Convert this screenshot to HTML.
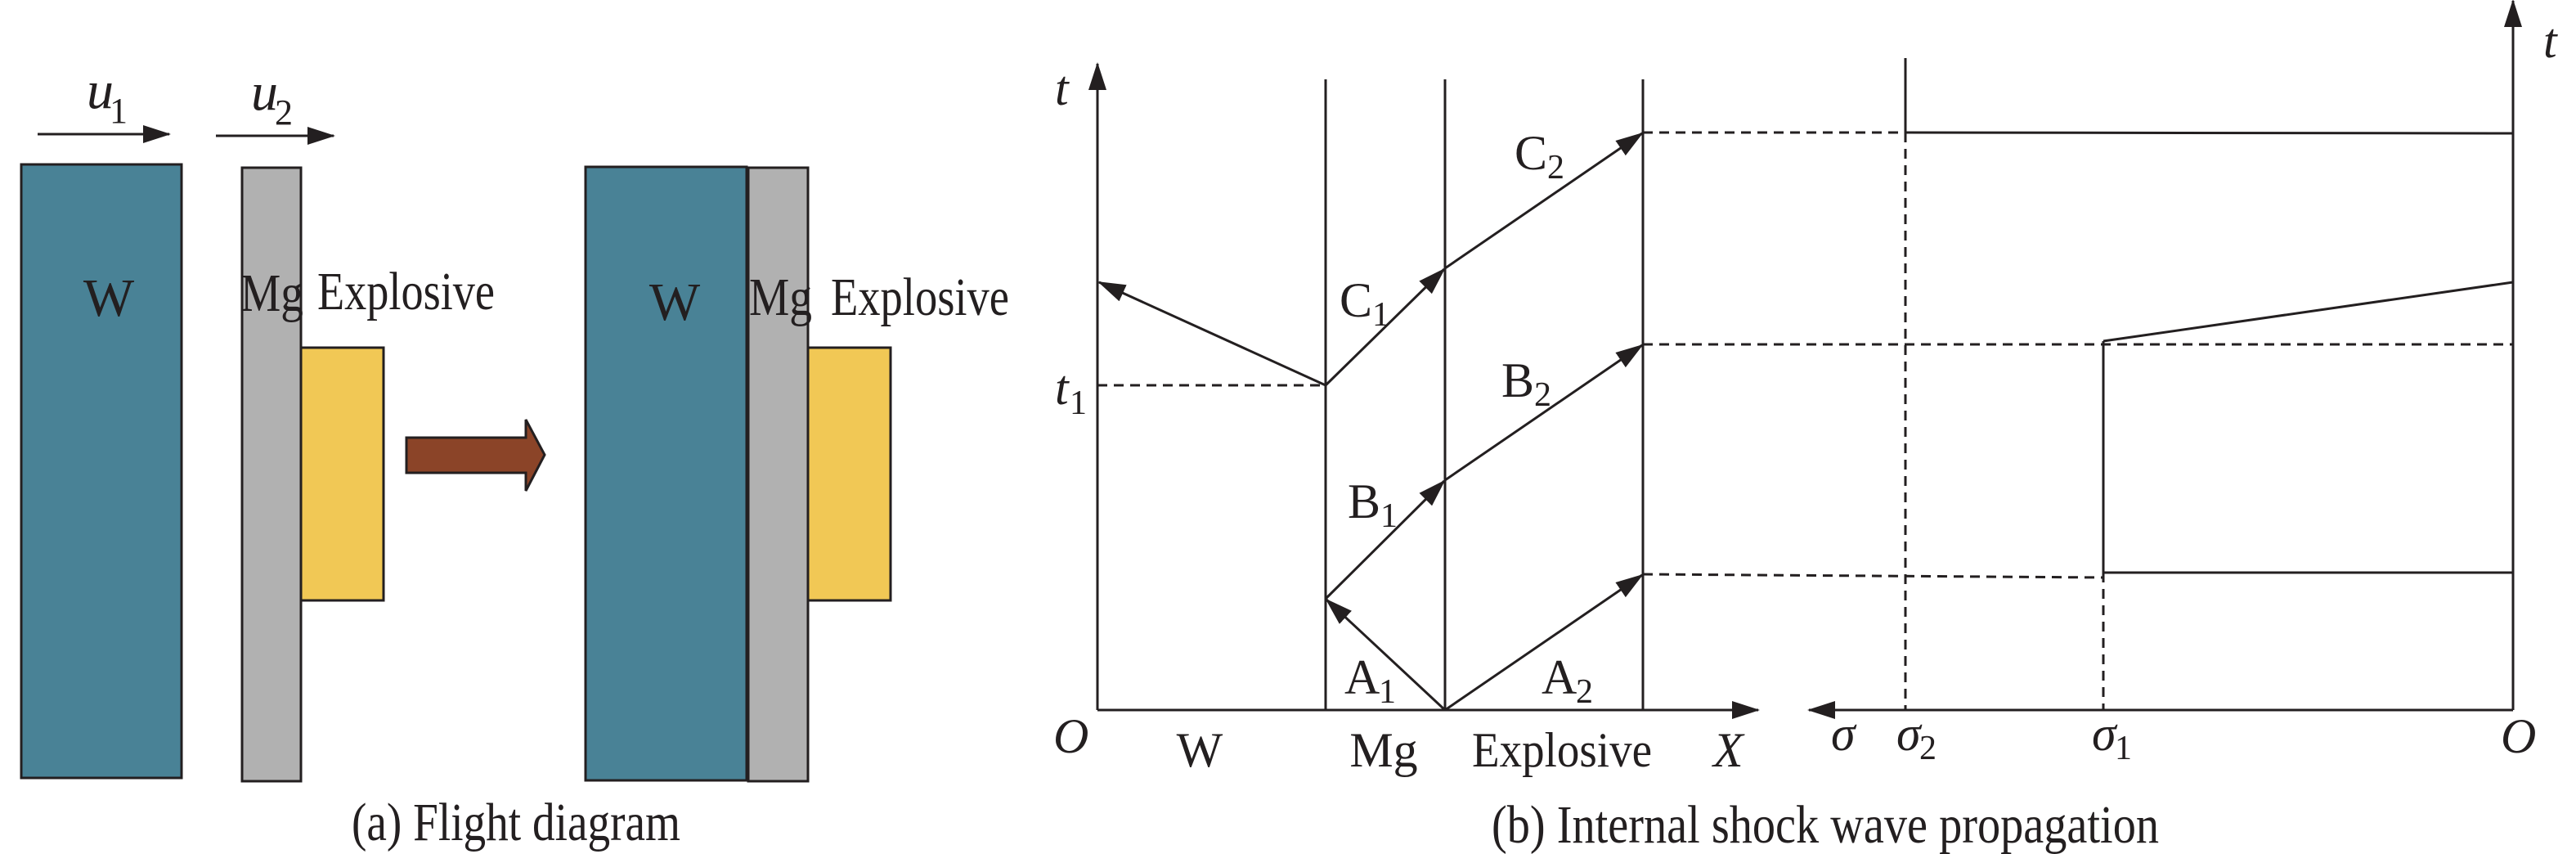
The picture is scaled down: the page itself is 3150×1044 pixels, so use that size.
<!DOCTYPE html>
<html><head><meta charset="utf-8"><style>
html,body{margin:0;padding:0;background:#fff}
svg{display:block}
text{font-family:"Liberation Serif",serif;fill:#231f20}
</style></head><body>
<svg width="3150" height="1044" viewBox="0 0 3150 1044" xmlns="http://www.w3.org/2000/svg">
<defs>
<marker id="ah" markerWidth="34" markerHeight="22" refX="32" refY="11" orient="auto" markerUnits="userSpaceOnUse">
<path d="M0,0 L34,11 L0,22 Z" fill="#231f20"/>
</marker>
</defs>
<g stroke="#231f20" stroke-width="3">
<rect x="26" y="201" width="196" height="750" fill="#498296"/>
<rect x="296" y="205" width="72" height="750" fill="#b1b1b1"/>
<rect x="368" y="425" width="101" height="309" fill="#f1c855"/>
<line x1="46" y1="164" x2="207" y2="164" marker-end="url(#ah)"/>
<line x1="264" y1="166" x2="408" y2="166" marker-end="url(#ah)"/>
<path d="M497,535 L643,535 L643,513 L666,556 L643,600 L643,578 L497,578 Z" fill="#8b4428"/>
<rect x="716" y="204" width="197" height="750" fill="#498296"/>
<rect x="915" y="205" width="73" height="750" fill="#b1b1b1"/>
<rect x="988" y="425" width="101" height="309" fill="#f1c855"/>
</g>
<g font-size="66">
<text x="106" y="132" font-style="italic">u</text><text x="134" y="150" font-size="44">1</text>
<text x="307" y="134" font-style="italic">u</text><text x="336" y="152" font-size="44">2</text>
<text x="133" y="386" text-anchor="middle">W</text>
<text x="294" y="380" textLength="77" lengthAdjust="spacingAndGlyphs">Mg</text>
<text x="388" y="378" textLength="217" lengthAdjust="spacingAndGlyphs">Explosive</text>
<text x="825" y="391" text-anchor="middle">W</text>
<text x="916" y="385" textLength="77" lengthAdjust="spacingAndGlyphs">Mg</text>
<text x="1016" y="385" textLength="218" lengthAdjust="spacingAndGlyphs">Explosive</text>
<text x="430" y="1027" textLength="402" lengthAdjust="spacingAndGlyphs">(a) Flight diagram</text>
</g>
<g stroke="#231f20" stroke-width="3" fill="none">
<line x1="1342" y1="868" x2="1342" y2="78" marker-end="url(#ah)"/>
<line x1="1342" y1="868" x2="2150" y2="868" marker-end="url(#ah)"/>
<line x1="1621" y1="97" x2="1621" y2="868"/>
<line x1="1767" y1="97" x2="1767" y2="868"/>
<line x1="2009" y1="97" x2="2009" y2="868"/>
<line x1="1342" y1="471" x2="1621" y2="471" stroke-dasharray="12,8"/>
<line x1="1621" y1="471" x2="1344" y2="345" marker-end="url(#ah)"/>
<line x1="1621" y1="471" x2="1766" y2="329" marker-end="url(#ah)"/>
<line x1="1767" y1="328" x2="2008" y2="163" marker-end="url(#ah)"/>
<line x1="1621" y1="732" x2="1766" y2="588" marker-end="url(#ah)"/>
<line x1="1767" y1="587" x2="2008" y2="422" marker-end="url(#ah)"/>
<line x1="1767" y1="868" x2="1622" y2="733" marker-end="url(#ah)"/>
<line x1="1767" y1="868" x2="2008" y2="703" marker-end="url(#ah)"/>
<line x1="3073" y1="868" x2="2212" y2="868" marker-end="url(#ah)"/>
<line x1="3073" y1="868" x2="3073" y2="1" marker-end="url(#ah)"/>
<line x1="2009" y1="162" x2="2330" y2="162" stroke-dasharray="12,8"/>
<line x1="2330" y1="162" x2="3073" y2="163"/>
<line x1="2330" y1="71" x2="2330" y2="162"/>
<line x1="2330" y1="162" x2="2330" y2="868" stroke-dasharray="12,8"/>
<line x1="2009" y1="421" x2="3073" y2="421" stroke-dasharray="12,8"/>
<line x1="2572" y1="417" x2="2572" y2="700"/>
<line x1="2572" y1="700" x2="2572" y2="868" stroke-dasharray="12,8"/>
<line x1="2572" y1="417" x2="3073" y2="345"/>
<line x1="2009" y1="702" x2="2572" y2="706" stroke-dasharray="12,8"/>
<line x1="2572" y1="700" x2="3073" y2="700"/>
</g>
<g font-size="60">
<text x="1290" y="128" font-style="italic">t</text>
<text x="1290" y="494" font-style="italic">t</text><text x="1308" y="506" font-size="42">1</text>
<text x="1288" y="920" font-style="italic">O</text>
<text x="1467" y="937" text-anchor="middle">W</text>
<text x="1692" y="937" text-anchor="middle">Mg</text>
<text x="1800" y="937" textLength="220" lengthAdjust="spacingAndGlyphs">Explosive</text>
<text x="2095" y="937" font-style="italic">X</text>
<text x="1852" y="207">C</text><text x="1892" y="218" font-size="42">2</text>
<text x="1638" y="387">C</text><text x="1678" y="398" font-size="42">1</text>
<text x="1836" y="485">B</text><text x="1876" y="496" font-size="42">2</text>
<text x="1648" y="633">B</text><text x="1688" y="644" font-size="42">1</text>
<text x="1644" y="848">A</text><text x="1686" y="859" font-size="42">1</text>
<text x="1885" y="848">A</text><text x="1927" y="859" font-size="42">2</text>
<text x="2239" y="917" font-style="italic">σ</text>
<text x="2319" y="917" font-style="italic">σ</text><text x="2347" y="928" font-size="42">2</text>
<text x="2558" y="917" font-style="italic">σ</text><text x="2586" y="928" font-size="42">1</text>
<text x="3058" y="920" font-style="italic">O</text>
<text x="3110" y="70" font-style="italic">t</text>
</g>
<text x="1824" y="1030" font-size="66" textLength="816" lengthAdjust="spacingAndGlyphs">(b) Internal shock wave propagation</text>
</svg>
</body></html>
